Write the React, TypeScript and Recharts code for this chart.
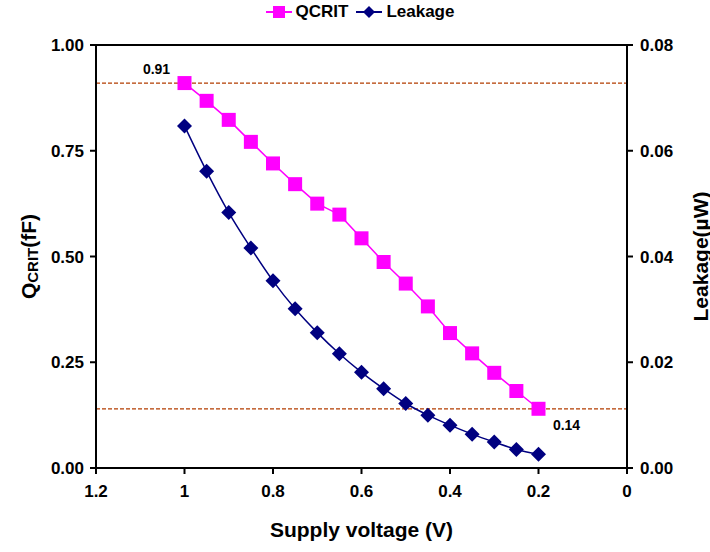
import {
  ComposedChart,
  Line,
  XAxis,
  YAxis,
  ReferenceLine,
} from 'recharts'

// supply voltage sweep (V)
const voltage = [1, 0.95, 0.9, 0.85, 0.8, 0.75, 0.7, 0.65, 0.6, 0.55, 0.5, 0.45, 0.4, 0.35, 0.3, 0.25, 0.2]
// critical charge (fF)
const qcrit = [0.91, 0.868, 0.823, 0.771, 0.72, 0.671, 0.625, 0.599, 0.543, 0.487, 0.436, 0.382, 0.319, 0.271, 0.225, 0.182, 0.14]
// leakage power (uW)
const leakage = [0.0647, 0.0561, 0.0483, 0.0416, 0.0354, 0.0301, 0.0256, 0.0216, 0.0181, 0.015, 0.0122, 0.01, 0.0081, 0.0064, 0.0049, 0.0035, 0.0026]

const xTicks = [0, 0.2, 0.4, 0.6, 0.8, 1, 1.2]
const qTicks = [0, 0.25, 0.5, 0.75, 1]
const leakTicks = [0, 0.02, 0.04, 0.06, 0.08]

const data = voltage.map((v, i) => ({ v, qcrit: qcrit[i], leakage: leakage[i] }))

const MAGENTA = '#FF00FF'
const NAVY = '#000080'
const GUIDE = '#B33C00'
const FONT = '"Liberation Sans", Arial, sans-serif'

const tickStyle = { fontSize: 17, fontWeight: 700, fill: '#000' }
const axisLine = { stroke: '#000', strokeWidth: 2 }

function SquareDot(props: any) {
  const { cx, cy, index, value } = props
  if (cx == null || cy == null) return null
  const last = index === qcrit.length - 1
  return (
    <g key={`sq-${index}`}>
      <rect x={cx - 7} y={cy - 7} width={14} height={14} fill={MAGENTA} />
      {(index === 0 || last) && (
        <text
          x={last ? cx + 28 : cx - 28}
          y={last ? cy + 21 : cy - 9}
          textAnchor="middle"
          fontSize={14}
          fontWeight={700}
          fill="#000"
        >
          {Number(value).toFixed(2)}
        </text>
      )}
    </g>
  )
}

function DiamondDot(props: any) {
  const { cx, cy, index } = props
  if (cx == null || cy == null) return null
  return (
    <path
      key={`dm-${index}`}
      d={`M${cx},${cy - 7.5}L${cx + 7.5},${cy}L${cx},${cy + 7.5}L${cx - 7.5},${cy}Z`}
      fill={NAVY}
    />
  )
}

function LeftTitle({ viewBox }: any) {
  const cx = viewBox.x + 28
  const cy = viewBox.y + viewBox.height / 2
  return (
    <text
      x={cx}
      y={cy}
      transform={`rotate(-90, ${cx}, ${cy})`}
      textAnchor="middle"
      dominantBaseline="central"
      fontSize={21}
      fontWeight={700}
      fill="#000"
    >
      <tspan>Q</tspan>
      <tspan fontSize={15} dy={4}>CRIT</tspan>
      <tspan dy={-4}>(fF)</tspan>
    </text>
  )
}

function RightTitle({ viewBox }: any) {
  const cx = viewBox.x + 73
  const cy = viewBox.y + viewBox.height / 2
  return (
    <text
      x={cx}
      y={cy}
      transform={`rotate(-90, ${cx}, ${cy})`}
      textAnchor="middle"
      dominantBaseline="central"
      fontSize={21}
      fontWeight={700}
      fill="#000"
    >
      Leakage(µW)
    </text>
  )
}

function BottomTitle({ viewBox }: any) {
  return (
    <text
      x={viewBox.x + viewBox.width / 2}
      y={viewBox.y + 69}
      textAnchor="middle"
      fontSize={21}
      fontWeight={700}
      fill="#000"
    >
      Supply voltage (V)
    </text>
  )
}

function LegendBar() {
  const item = (color: string, marker: React.ReactNode, label: string) => (
    <span style={{ display: 'inline-flex', alignItems: 'center', marginRight: 8 }}>
      <svg width={26} height={16} style={{ marginRight: 4 }}>
        <line x1={0} y1={8} x2={26} y2={8} stroke={color} strokeWidth={2} />
        {marker}
      </svg>
      <span>{label}</span>
    </span>
  )
  return (
    <div
      style={{
        position: 'absolute',
        top: 1,
        left: 0,
        width: 728,
        display: 'flex',
        justifyContent: 'center',
        fontFamily: FONT,
        fontSize: 17,
        fontWeight: 700,
        lineHeight: '22px',
      }}
    >
      {item(MAGENTA, <rect x={7} y={2} width={12} height={12} fill={MAGENTA} />, 'QCRIT')}
      {item(NAVY, <path d="M13,2L19,8L13,14L7,8Z" fill={NAVY} />, 'Leakage')}
    </div>
  )
}

export default function App() {
  return (
    <div style={{ position: 'absolute', top: 0, left: 0, width: 710, height: 552, background: '#fff' }}>
      <LegendBar />
      <ComposedChart
        width={710}
        height={552}
        data={data}
        margin={{ top: 45, right: 0, bottom: 0, left: 0 }}
        style={{ fontFamily: FONT }}
      >
        <XAxis
          dataKey="v"
          type="number"
          domain={[0, 1.2]}
          ticks={xTicks}
          reversed
          height={84}
          tick={tickStyle}
          tickFormatter={(v: number) => String(v)}
          axisLine={axisLine}
          tickLine={axisLine}
          tickSize={6}
          tickMargin={11}
          label={{ content: BottomTitle }}
        />
        <YAxis
          yAxisId="q"
          orientation="left"
          domain={[0, 1]}
          ticks={qTicks}
          width={96}
          tick={tickStyle}
          tickFormatter={(v: number) => v.toFixed(2)}
          axisLine={axisLine}
          tickLine={axisLine}
          tickSize={6}
          tickMargin={6}
          label={{ content: LeftTitle }}
        />
        <YAxis
          yAxisId="leak"
          orientation="right"
          domain={[0, 0.08]}
          ticks={leakTicks}
          width={83}
          tick={tickStyle}
          tickFormatter={(v: number) => v.toFixed(2)}
          axisLine={axisLine}
          tickLine={axisLine}
          tickSize={6}
          tickMargin={7}
          label={{ content: RightTitle }}
        />
        {/* top frame edge */}
        <ReferenceLine yAxisId="q" y={1} stroke="#000" strokeWidth={2} />
        {/* guides through the first and last QCRIT values */}
        <ReferenceLine yAxisId="q" y={qcrit[0]} stroke={GUIDE} strokeDasharray="4 2" strokeWidth={1.2} />
        <ReferenceLine yAxisId="q" y={qcrit[qcrit.length - 1]} stroke={GUIDE} strokeDasharray="4 2" strokeWidth={1.2} />
        <Line
          yAxisId="q"
          dataKey="qcrit"
          type="linear"
          stroke={MAGENTA}
          strokeWidth={1.5}
          dot={SquareDot}
          activeDot={false}
          isAnimationActive={false}
        />
        <Line
          yAxisId="leak"
          dataKey="leakage"
          type="monotone"
          stroke={NAVY}
          strokeWidth={1.5}
          dot={DiamondDot}
          activeDot={false}
          isAnimationActive={false}
        />
      </ComposedChart>
    </div>
  )
}
